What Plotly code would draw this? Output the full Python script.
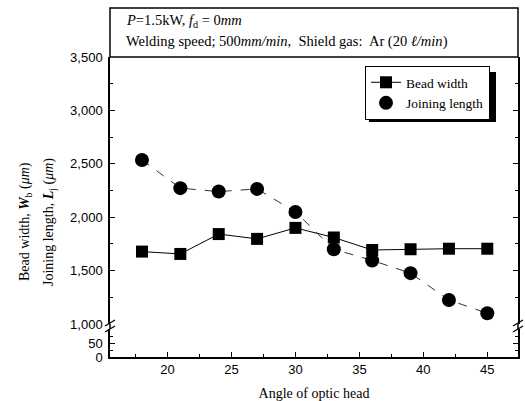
import plotly.graph_objects as go

angles = [18, 21, 24, 27, 30, 33, 36, 39, 42, 45]
bead_width = [1678, 1656, 1842, 1797, 1900, 1810, 1693, 1700, 1705, 1705]
joining_length = [2535, 2272, 2240, 2265, 2049, 1700, 1595, 1476, 1225, 1100]

upper_ticks = [1000, 1500, 2000, 2500, 3000, 3500]
lower_ticks = [0, 50]

serif = "Liberation Serif"
sans = "Liberation Sans"

H = 349.0
def fy(py):
    return (357 - py) / H

up_top, up_bot = fy(57), fy(324)
lo_top, lo_bot = fy(329), 0.0

fig = go.Figure()

fig.add_trace(go.Scatter(
    x=angles, y=bead_width, mode="lines+markers", name="Bead width",
    line=dict(color="black", width=1),
    marker=dict(symbol="square", size=12, color="black"),
    xaxis="x", yaxis="y"))
fig.add_trace(go.Scatter(
    x=angles, y=joining_length, mode="lines+markers", name="Joining length",
    line=dict(color="#333", width=1, dash="dash"),
    marker=dict(symbol="circle", size=14, color="black"),
    xaxis="x", yaxis="y", showlegend=False))
fig.add_trace(go.Scatter(
    x=[None], y=[None], mode="markers", name="Joining length",
    marker=dict(symbol="circle", size=14, color="black"),
    xaxis="x", yaxis="y"))
# carrier trace so the lower (broken) axis segment is rendered; values are off-range
fig.add_trace(go.Scatter(
    x=angles, y=bead_width, mode="lines", line=dict(width=0, color="rgba(0,0,0,0)"),
    xaxis="x", yaxis="y2", showlegend=False, hoverinfo="skip"))

axis_common = dict(showline=True, linecolor="black", linewidth=1.5,
                   ticks="inside", ticklen=5, tickcolor="black", showgrid=False,
                   zeroline=False, automargin=False,
                   tickfont=dict(family=sans, size=13, color="black"))

xr = [15.5, 47.4]
fig.update_layout(
    width=525, height=401,
    margin=dict(l=110, r=7, t=8, b=44),
    paper_bgcolor="white", plot_bgcolor="white",
    showlegend=True,
    xaxis=dict(range=xr, anchor="y2", dtick=5, tick0=0,
               minor=dict(dtick=2.5, ticks="inside", ticklen=3, tickcolor="black"),
               title=dict(text="Angle of optic head", font=dict(family=serif, size=14, color="black"), standoff=12),
               **axis_common),
    xaxis2=dict(range=xr, anchor="y", side="top", overlaying="x", showticklabels=False,
                dtick=5, tick0=0,
                minor=dict(dtick=2.5, ticks="inside", ticklen=3, tickcolor="black"),
                **axis_common),
    yaxis=dict(domain=[up_bot, up_top], range=[1000, 3500], anchor="x",
               tickvals=upper_ticks, tickformat=",d", mirror="ticks", ticklabelstandoff=3,
               minor=dict(dtick=250, ticks="inside", ticklen=3, tickcolor="black"),
               **axis_common),
    yaxis2=dict(domain=[lo_bot, lo_top], range=[0, 100], anchor="x",
                tickvals=lower_ticks, mirror="ticks", ticklabelstandoff=3,
                minor=dict(dtick=25, ticks="inside", ticklen=3, tickcolor="black"),
                **axis_common),
    legend=dict(x=(365 - 110) / 408, y=fy(66), xanchor="left", yanchor="top",
                bgcolor="white", bordercolor="black", borderwidth=1,
                font=dict(family=serif, size=13.5, color="black"),
                tracegroupgap=0, itemwidth=30),
)

shapes = []
# header box
shapes.append(dict(type="rect", xref="paper", yref="paper", x0=0, x1=1, y0=up_top, y1=1,
                   line=dict(color="black", width=1.5), fillcolor="rgba(0,0,0,0)"))
# gap lines between segments
for xp in [0, 1]:
    shapes.append(dict(type="line", xref="paper", yref="paper", x0=xp, x1=xp, y0=lo_top, y1=up_bot,
                       line=dict(color="black", width=1.5)))
    for dy in [fy(323), fy(329)]:
        shapes.append(dict(type="line", xref="paper", yref="paper",
                           x0=xp - 5 / 408, x1=xp + 5 / 408, y0=dy - 3 / H, y1=dy + 3 / H,
                           line=dict(color="black", width=1.2)))
# legend drop shadow
shapes.append(dict(type="rect", xref="paper", yref="paper",
                   x0=(369 - 110) / 408, x1=(496 - 110) / 408, y0=fy(122), y1=fy(72),
                   fillcolor="black", line=dict(width=0), layer="above"))
fig.update_layout(shapes=shapes)

annotations = [
    dict(text="<i>P</i>=1.5kW, <i>f</i><sub>d</sub> = 0<i>mm</i>", xref="paper", yref="paper",
         x=14 / 408, y=fy(21), xanchor="left", yanchor="middle", showarrow=False,
         font=dict(family=serif, size=14.5, color="black")),
    dict(text="Welding speed; 500<i>mm/min</i>,  Shield gas:  Ar (20 <i>ℓ/min</i>)", xref="paper", yref="paper",
         x=14 / 408, y=fy(41), xanchor="left", yanchor="middle", showarrow=False,
         font=dict(family=serif, size=14.5, color="black")),
    dict(text="Bead width, <b><i>W</i></b><sub>b</sub> (<i>μm</i>)", xref="paper", yref="paper",
         x=(25 - 110) / 408, y=fy(222), xanchor="center", yanchor="middle", textangle=-90,
         showarrow=False, font=dict(family=serif, size=14, color="black")),
    dict(text="Joining length, <b><i>L</i></b><sub>j</sub> (<i>μm</i>)", xref="paper", yref="paper",
         x=(49 - 110) / 408, y=fy(222), xanchor="center", yanchor="middle", textangle=-90,
         showarrow=False, font=dict(family=serif, size=14, color="black")),
]
fig.update_layout(annotations=annotations)

fig.write_html("out.html")
